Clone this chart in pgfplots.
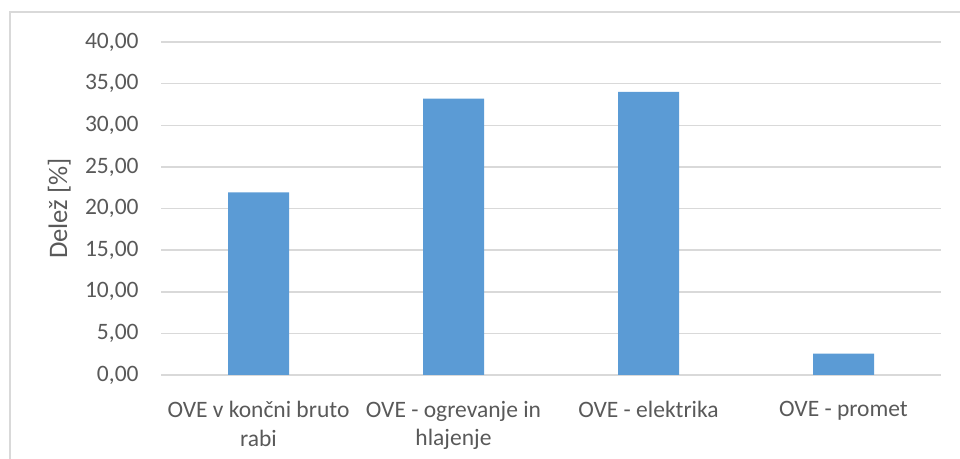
\documentclass[border=0pt]{standalone}
\usepackage{fontspec}
\setmainfont{Carlito}
\usepackage{pgfplots}
\pgfplotsset{compat=1.18}
\definecolor{barblue}{HTML}{5B9BD5}
\definecolor{txt}{HTML}{595959}
\definecolor{gridc}{HTML}{D9D9D9}
\begin{document}
\begin{tikzpicture}
\useasboundingbox (0,0) rectangle (480bp,229.5bp);
\draw[gridc, line width=1bp] (5bp,0) -- (5bp,223.5bp) -- (480bp,223.5bp);
\begin{axis}[
  at={(80.5bp,42bp)}, anchor=south west,
  scale only axis, width=390bp, height=166.5bp,
  ybar, bar width=30.5bp,
  xmin=-0.5, xmax=3.5, ymin=0, ymax=40, ytick={0,5,...,40},
  xtick={0,1,2,3},
  xticklabels={{OVE v končni bruto\\rabi},{OVE - ogrevanje in\\hlajenje},{OVE - elektrika},{OVE - promet}},
  ymajorgrids, major grid style={gridc, line width=0.75bp},
  tick style={draw=none},
  axis line style={draw=none},
  ticklabel style={font=\fontsize{11.8}{14.5}\selectfont, text=txt},
  xticklabel style={align=center, anchor=north, inner sep=0pt, yshift=-8.5bp},
  yticklabel style={anchor=east, inner sep=0pt, xshift=-11bp,
    /pgf/number format/fixed, /pgf/number format/fixed zerofill,
    /pgf/number format/precision=2, /pgf/number format/use comma,
    /pgf/number format/assume math mode=true},
  ylabel={Delež [\%]},
  ylabel style={at={(axis description cs:-0.1205,0.5)}, anchor=base,
    font=\fontsize{13.4}{15}\selectfont, text=txt},
]
\addplot[fill=barblue, draw=none] coordinates {(0,21.95) (1,33.2) (2,34.0) (3,2.56)};
\end{axis}
\end{tikzpicture}
\end{document}
